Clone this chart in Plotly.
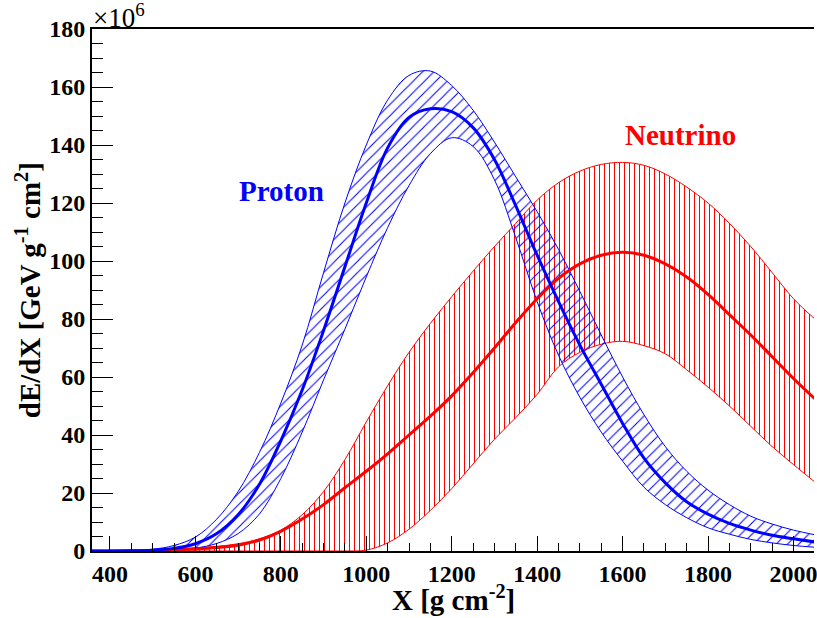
import plotly.graph_objects as go

# Depth grid (g cm^-2)
X = [350, 400, 450, 500, 550, 600, 650, 700, 750, 800, 850, 900, 950, 1000,
     1050, 1100, 1150, 1200, 1250, 1300, 1350, 1400, 1450, 1500, 1550, 1600,
     1650, 1700, 1750, 1800, 1850, 1900, 1950, 2000, 2050]

# Proton dE/dX (x1e6 GeV g^-1 cm^2)
proton_mid = [0, 0.02, 0.08, 0.3, 0.9, 2.5, 6, 12.5, 23, 38, 55.5, 76, 98, 120,
              139, 149.5, 152.5, 151.5, 146, 135, 119, 102, 86, 71, 57.5, 44,
              32, 23.5, 17, 12.7, 9.5, 7.2, 5.4, 4.2, 3.1]
proton_hi = [0, 0.05, 0.2, 0.6, 1.9, 4.8, 11, 20.5, 34, 51, 71, 96, 120, 140,
             155.5, 164, 165.5, 160.5, 152, 141, 129, 117, 104, 89.5, 74.5, 60,
             47, 36, 27.5, 21, 16, 12, 9.3, 7.2, 5.6]
proton_lo = [0, 0, 0.02, 0.08, 0.3, 1.0, 2.6, 6, 12.8, 25, 41, 59, 76.5, 94.5,
             111.5, 126, 137, 142.5, 139.5, 128, 108, 86, 67.5, 53, 41, 31,
             22, 16, 11.5, 8, 5.8, 4.0, 2.8, 1.9, 1.3]

# Neutrino dE/dX (x1e6 GeV g^-1 cm^2)
nu_mid = [0, 0, 0.05, 0.15, 0.35, 0.7, 1.2, 2.0, 3.8, 6.8, 11, 16, 21.8, 27.5,
          33.5, 40, 46.5, 53.5, 61.5, 70, 78.8, 87, 94, 99, 102, 103,
          102, 99, 94.5, 88.5, 81.5, 74.5, 67, 59.5, 52.5]
nu_hi = [0, 0.05, 0.15, 0.35, 0.7, 1.1, 1.6, 2.5, 4.2, 7.2, 12.5, 20.5, 31.5, 44.5,
         57, 68.5, 78.5, 87.7, 96.5, 105, 113, 121, 127, 131, 133.3, 134,
         133, 130, 125.5, 120, 113, 105, 96, 87, 80]
nu_lo = [0, 0, 0, 0, 0, 0, 0, 0, 0, 0, 0, 0, 0, 0.3,
         2.8, 7.5, 14, 21.5, 30, 38.5, 46, 54, 63.5, 68.5, 71.3, 72.3,
         70.8, 68, 62.5, 56.5, 50, 43, 36, 29.8, 23.8]

x_ticks = [400, 600, 800, 1000, 1200, 1400, 1600, 1800, 2000]
y_ticks = [0, 20, 40, 60, 80, 100, 120, 140, 160, 180]

BLUE = "#0000ff"
RED = "#ff0000"
FONT = "Liberation Serif"

fig = go.Figure()

def band(lo, hi, color, shape, size, solidity):
    fig.add_trace(go.Scatter(x=X, y=lo, mode="lines", line=dict(color=color, width=1, shape="spline"),
                             showlegend=False, hoverinfo="skip"))
    fig.add_trace(go.Scatter(x=X, y=hi, mode="lines", line=dict(color=color, width=1, shape="spline"),
                             fill="tonexty", fillcolor="rgba(0,0,0,0)",
                             fillpattern=dict(shape=shape, fgcolor=color, bgcolor="rgba(0,0,0,0)",
                                              size=size, solidity=solidity, fillmode="replace"),
                             showlegend=False, hoverinfo="skip"))

band(nu_lo, nu_hi, RED, "|", 5, 0.2)
band(proton_lo, proton_hi, BLUE, "/", 8, 0.13)

fig.add_trace(go.Scatter(x=X, y=nu_mid, mode="lines", line=dict(color=RED, width=3, shape="spline"),
                         showlegend=False))
fig.add_trace(go.Scatter(x=X, y=proton_mid, mode="lines", line=dict(color=BLUE, width=3, shape="spline"),
                         showlegend=False))

tickfont = dict(family=FONT, size=24, color="black", weight="bold")

fig.update_layout(
    width=817, height=618,
    margin=dict(l=92, r=0, t=29, b=67),
    paper_bgcolor="white", plot_bgcolor="white",
    showlegend=False,
    xaxis=dict(range=[358, 2048], tickvals=x_ticks, ticks="inside", ticklen=15, tickwidth=1.2,
               tickcolor="black", showline=True, linewidth=2, linecolor="black", mirror=True,
               showgrid=False, zeroline=False, tickfont=tickfont, ticklabeloverflow="allow",
               minor=dict(dtick=50, tick0=0, ticks="inside", ticklen=8, tickwidth=1.2, tickcolor="black",
                          showgrid=False)),
    yaxis=dict(range=[0, 180], tickvals=y_ticks, ticks="inside", ticklen=21, tickwidth=1.2,
               tickcolor="black", showline=True, linewidth=2, linecolor="black", mirror=False,
               showgrid=False, zeroline=False, tickfont=tickfont, ticklabeloverflow="allow",
               minor=dict(dtick=5, tick0=0, ticks="inside", ticklen=11, tickwidth=1.2, tickcolor="black",
                          showgrid=False)),
)

titlefont = dict(family=FONT, size=29, color="black", weight="bold")
fig.add_annotation(text="X [g cm<sup>-2</sup>]", xref="paper", yref="paper", x=0.5, y=-0.0907,
                   xanchor="center", yanchor="middle", showarrow=False, font=titlefont)
fig.add_annotation(text="dE/dX [GeV g<sup>-1</sup> cm<sup>2</sup>]", xref="paper", yref="paper",
                   x=-0.0883, y=0.5, xanchor="center", yanchor="middle", textangle=-90,
                   showarrow=False, font=titlefont)
fig.add_annotation(text="×10<sup>6</sup>", xref="paper", yref="paper", x=-0.002, y=0.988,
                   xanchor="left", yanchor="bottom", showarrow=False,
                   font=dict(family=FONT, size=27, color="black"))
fig.add_annotation(text="Proton", x=801, y=124, xref="x", yref="y", showarrow=False,
                   font=dict(family=FONT, size=29, color=BLUE, weight="bold"))
fig.add_annotation(text="Neutrino", x=1736, y=143.5, xref="x", yref="y", showarrow=False,
                   font=dict(family=FONT, size=29, color=RED, weight="bold"))

fig.write_html("out.html")
